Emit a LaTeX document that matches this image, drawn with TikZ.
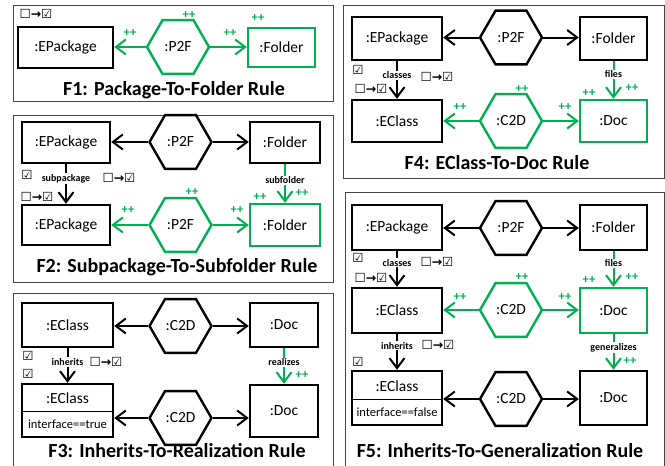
\documentclass[tikz,border=0pt]{standalone}
\usepackage{fontspec}
\setmainfont{Carlito}
\newfontfamily\symf{DejaVu Sans}
\usetikzlibrary{arrows.meta,shapes.geometric}
\definecolor{gr}{RGB}{0,176,80}
\definecolor{framec}{RGB}{70,70,70}
\begin{document}
\begin{tikzpicture}[x=1pt,y=-1pt,
  box/.style={draw, line width=2.4pt, inner sep=0pt, font=\fontsize{15.5}{15.5}\selectfont},
  hexa/.style={draw, regular polygon, regular polygon sides=6, minimum size=62pt, inner sep=0pt, line width=2.4pt, font=\fontsize{15.5}{15.5}\selectfont},
  conn/.style={line width=2pt, -{Straight Barb[length=10pt,width=15pt]}},
  lab/.style={fill=white, text=black, inner sep=1pt, font=\bfseries\fontsize{10}{10}\selectfont},
  pp/.style={text=gr, inner sep=0pt, font=\bfseries\fontsize{12.5}{12.5}\selectfont},
  cb/.style={inner sep=0pt, font=\symf\bfseries\fontsize{12.5}{12.5}\selectfont},
  ttl/.style={inner sep=0pt, font=\bfseries\fontsize{20}{20}\selectfont},
  itxt/.style={inner sep=0pt, font=\fontsize{15.5}{15.5}\selectfont},
  isml/.style={inner sep=0pt, font=\fontsize{12.5}{12.5}\selectfont},
  frame/.style={draw=framec, line width=1pt},
  div/.style={line width=1pt}
]
\useasboundingbox (0,0) rectangle (665,466);
\fill[white] (0,0) rectangle (665,466);

% ---------- frames
\draw[frame] (13,5) rectangle (333,101);
\draw[frame] (13,115) rectangle (333,282);
\draw[frame] (13,466) -- (13,293) -- (333,293) -- (333,466);
\draw[frame] (343,5) rectangle (664,178);
\draw[frame] (345,466) -- (345,192) -- (664,192) -- (664,466);

% ---------- F1
\node[box, minimum width=95pt, minimum height=41pt] (e1) at (65.5,47.5) {:EPackage};
\node[hexa, draw=gr] (h1) at (178,47) {:P2F};
\node[box, draw=gr, minimum width=67pt, minimum height=39pt] (f1) at (281.5,47.5) {:Folder};
\draw[conn, gr] (h1.west) -- (h1.west -| e1.east);
\draw[conn, gr] (h1.east) -- (h1.east -| f1.west);
\node[cb] (c1) at (36,14) {☐→☑};
\node[pp] (p1a) at (130,33) {++};
\node[pp] (p1b) at (189,15.5) {++};
\node[pp] (p1c) at (230,33) {++};
\node[pp] (p1d) at (258,18) {++};
\node[ttl] (t1) at (174,90) {F1: Package-To-Folder Rule};

% ---------- F2
\node[box, minimum width=88pt, minimum height=41pt] (e2a) at (66,142.5) {:EPackage};
\node[hexa] (h2a) at (180.5,142) {:P2F};
\node[box, minimum width=70pt, minimum height=41pt] (f2a) at (285,142.5) {:Folder};
\node[box, minimum width=88pt, minimum height=40pt] (e2b) at (66,225) {:EPackage};
\node[hexa, draw=gr] (h2b) at (180.5,225) {:P2F};
\node[box, draw=gr, minimum width=70pt, minimum height=42pt] (f2b) at (285,225) {:Folder};
\draw[conn] (h2a.west) -- (h2a.west -| e2a.east);
\draw[conn] (h2a.east) -- (h2a.east -| f2a.west);
\draw[conn, gr] (h2b.west) -- (h2b.west -| e2b.east);
\draw[conn, gr] (h2b.east) -- (h2b.east -| f2b.west);
\draw[conn] (e2a.south) -- (e2b.north) node[lab, pos=0.36] (l2a) {subpackage};
\draw[conn, gr] (f2a.south) -- (f2b.north) node[lab, pos=0.42] (l2b) {subfolder};
\node[cb] (c2a) at (27,175) {☑};
\node[cb] (c2b) at (119,178) {☐→☑};
\node[cb] (c2c) at (37,197) {☐→☑};
\node[pp] (p2a) at (260,197) {++};
\node[pp] (p2b) at (302,193) {++};
\node[pp] (p2c) at (192,192) {++};
\node[pp] (p2d) at (128,210) {++};
\node[pp] (p2e) at (237,210) {++};
\node[ttl] (t2) at (177,267) {F2: Subpackage-To-Subfolder Rule};

% ---------- F3
\node[box, minimum width=91pt, minimum height=44pt] (e3a) at (67.5,325) {:EClass};
\node[hexa] (h3a) at (180.5,326) {:C2D};
\node[box, minimum width=68pt, minimum height=44pt] (d3a) at (284,325) {:Doc};
\node[box, minimum width=91pt, minimum height=53pt] (e3b) at (67.5,410.5) {};
\node[itxt] (e3bt) at (67.5,398) {:EClass};
\node[isml] (e3bi) at (67.5,424.5) {interface==true};
\draw[div] (e3b.west |- 0,411) -- (e3b.east |- 0,411);
\node[hexa] (h3b) at (180.5,418) {:C2D};
\node[box, minimum width=68pt, minimum height=52pt] (d3b) at (284,411) {:Doc};
\draw[conn] (h3a.west) -- (h3a.west -| e3a.east);
\draw[conn] (h3a.east) -- (h3a.east -| d3a.west);
\draw[conn] (h3b.west) -- (h3b.west -| e3b.east);
\draw[conn] (h3b.east) -- (h3b.east -| d3b.west);
\draw[conn] (e3a.south) -- (e3b.north) node[lab, pos=0.4] (l3a) {inherits};
\draw[conn, gr] (d3a.south) -- (d3b.north) node[lab, pos=0.4] (l3b) {realizes};
\node[cb] (c3a) at (28,356) {☑};
\node[cb] (c3b) at (28,374) {☑};
\node[cb] (c3c) at (106,362) {☐→☑};
\node[pp] (p3a) at (302,375) {++};
\node[ttl] (t3) at (177,451) {F3: Inherits-To-Realization Rule};

% ---------- F4
\node[box, minimum width=90pt, minimum height=43pt] (e4a) at (397,38.5) {:EPackage};
\node[hexa] (h4a) at (511,37.5) {:P2F};
\node[box, minimum width=67pt, minimum height=43pt] (f4a) at (613.5,38.5) {:Folder};
\node[box, minimum width=90pt, minimum height=42pt] (e4b) at (397,121) {:EClass};
\node[hexa, draw=gr] (h4b) at (511,121) {:C2D};
\node[box, draw=gr, minimum width=67pt, minimum height=42pt] (d4b) at (613.5,121) {:Doc};
\draw[conn] (h4a.west) -- (h4a.west -| e4a.east);
\draw[conn] (h4a.east) -- (h4a.east -| f4a.west);
\draw[conn, gr] (h4b.west) -- (h4b.west -| e4b.east);
\draw[conn, gr] (h4b.east) -- (h4b.east -| d4b.west);
\draw[conn] (e4a.south) -- (e4b.north) node[lab, pos=0.37] (l4a) {classes};
\draw[conn, gr] (f4a.south) -- (d4b.north) node[lab, pos=0.35] (l4b) {files};
\node[cb] (c4a) at (358,70) {☑};
\node[cb] (c4b) at (437,77) {☐→☑};
\node[cb] (c4c) at (371,89) {☐→☑};
\node[pp] (p4a) at (589,93) {++};
\node[pp] (p4b) at (632,88) {++};
\node[pp] (p4c) at (522,89) {++};
\node[pp] (p4d) at (460,107) {++};
\node[pp] (p4e) at (565,107) {++};
\node[ttl] (t4) at (497,163) {F4: EClass-To-Doc Rule};

% ---------- F5
\node[box, minimum width=90pt, minimum height=45pt] (e5a) at (397,227.5) {:EPackage};
\node[hexa] (h5a) at (511,228) {:P2F};
\node[box, minimum width=67pt, minimum height=45pt] (f5a) at (613.5,227.5) {:Folder};
\node[box, minimum width=90pt, minimum height=45pt] (e5b) at (397,310.5) {:EClass};
\node[hexa, draw=gr] (h5b) at (511,310) {:C2D};
\node[box, draw=gr, minimum width=67pt, minimum height=45pt] (d5b) at (613.5,310.5) {:Doc};
\node[box, minimum width=90pt, minimum height=54pt] (e5c) at (397,398) {};
\node[itxt] (e5ct) at (397,386) {:EClass};
\node[isml] (e5ci) at (397,412.5) {interface==false};
\draw[div] (e5c.west |- 0,399) -- (e5c.east |- 0,399);
\node[hexa] (h5c) at (511,399) {:C2D};
\node[box, minimum width=67pt, minimum height=54pt] (d5c) at (613.5,398) {:Doc};
\draw[conn] (h5a.west) -- (h5a.west -| e5a.east);
\draw[conn] (h5a.east) -- (h5a.east -| f5a.west);
\draw[conn, gr] (h5b.west) -- (h5b.west -| e5b.east);
\draw[conn, gr] (h5b.east) -- (h5b.east -| d5b.west);
\draw[conn] (h5c.west) -- (h5c.west -| e5c.east);
\draw[conn] (h5c.east) -- (h5c.east -| d5c.west);
\draw[conn] (e5a.south) -- (e5b.north) node[lab, pos=0.32] (l5a) {classes};
\draw[conn, gr] (f5a.south) -- (d5b.north) node[lab, pos=0.34] (l5b) {files};
\draw[conn] (e5b.south) -- (e5c.north) node[lab, pos=0.32] (l5c) {inherits};
\draw[conn, gr] (d5b.south) -- (d5c.north) node[lab, pos=0.37] (l5d) {generalizes};
\node[cb] (c5a) at (358,258) {☑};
\node[cb] (c5b) at (437,262) {☐→☑};
\node[cb] (c5c) at (371,278) {☐→☑};
\node[cb] (c5d) at (438,345) {☐→☑};
\node[cb] (c5e) at (358,362) {☑};
\node[pp] (p5a) at (589,280) {++};
\node[pp] (p5b) at (632,277) {++};
\node[pp] (p5c) at (522,277) {++};
\node[pp] (p5d) at (460,297) {++};
\node[pp] (p5e) at (565,297) {++};
\node[pp] (p5f) at (630,361) {++};
\node[ttl] (t5) at (500,451) {F5: Inherits-To-Generalization Rule};
\end{tikzpicture}
\end{document}
